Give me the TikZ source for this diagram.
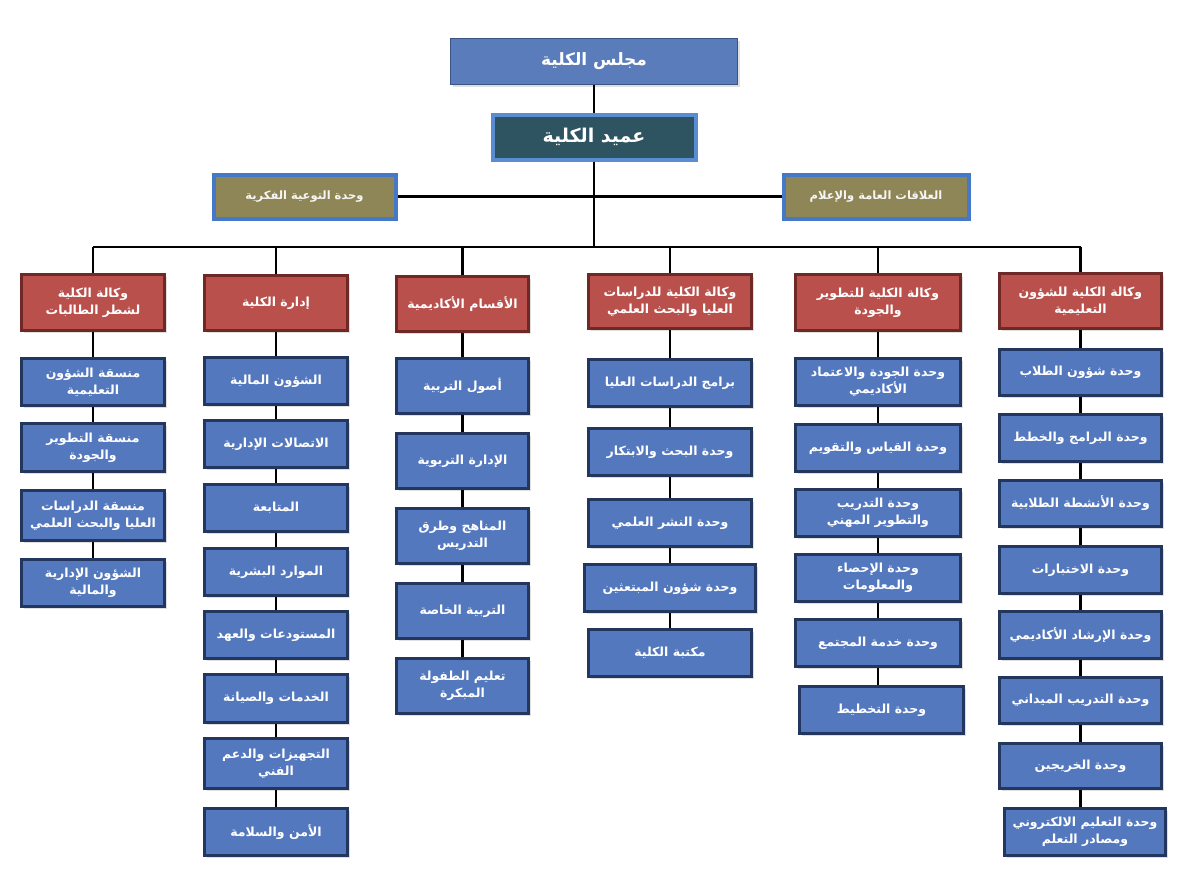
\documentclass[tikz,border=0pt]{standalone}
\usepackage{fontspec}
\newfontfamily\arabicfont[Script=Arabic]{DejaVu Sans}
\TeXXeTstate=1
\usetikzlibrary{shadows}
\definecolor{chfill}{HTML}{5478BE}
\definecolor{chdraw}{HTML}{23375E}
\definecolor{hdfill}{HTML}{B9504C}
\definecolor{hddraw}{HTML}{6E2826}
\definecolor{cofill}{HTML}{5A7CBA}
\definecolor{codraw}{HTML}{3A5583}
\definecolor{defill}{HTML}{2E5462}
\definecolor{dedraw}{HTML}{5A8CD2}
\definecolor{olfill}{HTML}{8F8658}
\definecolor{oldraw}{HTML}{4678C8}
\newcommand\ar[1]{\beginR #1\endR}
\newcommand\bx[7]{\node[#1, minimum width={(#4-#2-3)*1pt}, minimum height={(#5-#3-3)*1pt}] (#6) at ({(#2+#4)/2},{(#3+#5)/2}) {#7};}
\tikzset{
  base/.style={rectangle, align=center, inner sep=1pt, text=white, font=\arabicfont\bfseries\fontsize{12.5}{17}\selectfont,
    drop shadow={opacity=0.25, shadow xshift=2pt, shadow yshift=-2pt}},
  child/.style={base, fill=chfill, draw=chdraw, line width=3.5pt},
  head/.style={base, fill=hdfill, draw=hddraw, line width=3.5pt},
  council/.style={base, fill=cofill, draw=codraw, line width=1.5pt, font=\arabicfont\bfseries\fontsize{17}{20}\selectfont},
  dean/.style={base, fill=defill, draw=dedraw, line width=4pt, font=\arabicfont\bfseries\fontsize{19}{22}\selectfont},
  olive/.style={base, fill=olfill, draw=oldraw, line width=4pt, text=white!92!olfill, font=\arabicfont\bfseries\fontsize{11.5}{14}\selectfont},
  link/.style={draw=black, line width=2.5pt}
}
\begin{document}
\begin{tikzpicture}[x=1pt,y=-1pt]
\useasboundingbox (0,0) rectangle (1185,881);
% top
\bx{council}{449}{37}{739}{86}{council}{\ar{مجلس الكلية}}
\bx{dean}{491}{113}{697}{161}{dean}{\ar{عميد الكلية}}
\bx{olive}{212}{173}{397}{220}{olL}{\ar{وحدة التوعية الفكرية}}
\bx{olive}{782}{173}{970}{220}{olR}{\ar{العلاقات العامة والإعلام}}
% heads
\bx{head}{20}{273}{166}{332}{h1}{\ar{وكالة الكلية}\\\ar{لشطر الطالبات}}
\bx{head}{203}{274}{349}{332}{h2}{\ar{إدارة الكلية}}
\bx{head}{395}{275}{530}{333}{h3}{\ar{الأقسام الأكاديمية}}
\bx{head}{587}{273}{753}{330}{h4}{\ar{وكالة الكلية للدراسات}\\\ar{العليا والبحث العلمي}}
\bx{head}{794}{273}{962}{332}{h5}{\ar{وكالة الكلية للتطوير}\\\ar{والجودة}}
\bx{head}{998}{272}{1163}{330}{h6}{\ar{وكالة الكلية للشؤون}\\\ar{التعليمية}}
% column 1
\bx{child}{20}{357}{166}{407}{a1}{\ar{منسقة الشؤون}\\\ar{التعليمية}}
\bx{child}{20}{422}{166}{473}{a2}{\ar{منسقة التطوير}\\\ar{والجودة}}
\bx{child}{20}{489}{166}{542}{a3}{\ar{منسقة الدراسات}\\\ar{العليا والبحث العلمي}}
\bx{child}{20}{558}{166}{608}{a4}{\ar{الشؤون الإدارية}\\\ar{والمالية}}
% column 2
\bx{child}{203}{356}{349}{406}{b1}{\ar{الشؤون المالية}}
\bx{child}{203}{419}{349}{469}{b2}{\ar{الاتصالات الإدارية}}
\bx{child}{203}{483}{349}{533}{b3}{\ar{المتابعة}}
\bx{child}{203}{547}{349}{597}{b4}{\ar{الموارد البشرية}}
\bx{child}{203}{610}{349}{660}{b5}{\ar{المستودعات والعهد}}
\bx{child}{203}{673}{349}{724}{b6}{\ar{الخدمات والصيانة}}
\bx{child}{203}{737}{349}{790}{b7}{\ar{التجهيزات والدعم}\\\ar{الفني}}
\bx{child}{203}{807}{349}{857}{b8}{\ar{الأمن والسلامة}}
% column 3
\bx{child}{395}{357}{530}{415}{c1}{\ar{أصول التربية}}
\bx{child}{395}{432}{530}{490}{c2}{\ar{الإدارة التربوية}}
\bx{child}{395}{507}{530}{565}{c3}{\ar{المناهج وطرق}\\\ar{التدريس}}
\bx{child}{395}{582}{530}{640}{c4}{\ar{التربية الخاصة}}
\bx{child}{395}{657}{530}{715}{c5}{\ar{تعليم الطفولة}\\\ar{المبكرة}}
% column 4
\bx{child}{587}{358}{753}{408}{d1}{\ar{برامج الدراسات العليا}}
\bx{child}{587}{427}{753}{477}{d2}{\ar{وحدة البحث والابتكار}}
\bx{child}{587}{498}{753}{548}{d3}{\ar{وحدة النشر العلمي}}
\bx{child}{583}{563}{757}{613}{d4}{\ar{وحدة شؤون المبتعثين}}
\bx{child}{587}{628}{753}{678}{d5}{\ar{مكتبة الكلية}}
% column 5
\bx{child}{794}{357}{962}{407}{e1}{\ar{وحدة الجودة والاعتماد}\\\ar{الأكاديمي}}
\bx{child}{794}{423}{962}{473}{e2}{\ar{وحدة القياس والتقويم}}
\bx{child}{794}{488}{962}{538}{e3}{\ar{وحدة التدريب}\\\ar{والتطوير المهني}}
\bx{child}{794}{553}{962}{603}{e4}{\ar{وحدة الإحصاء}\\\ar{والمعلومات}}
\bx{child}{794}{618}{962}{668}{e5}{\ar{وحدة خدمة المجتمع}}
\bx{child}{798}{685}{965}{735}{e6}{\ar{وحدة التخطيط}}
% column 6
\bx{child}{998}{348}{1163}{397}{f1}{\ar{وحدة شؤون الطلاب}}
\bx{child}{998}{413}{1163}{463}{f2}{\ar{وحدة البرامج والخطط}}
\bx{child}{998}{479}{1163}{528}{f3}{\ar{وحدة الأنشطة الطلابية}}
\bx{child}{998}{545}{1163}{595}{f4}{\ar{وحدة الاختبارات}}
\bx{child}{998}{610}{1163}{660}{f5}{\ar{وحدة الإرشاد الأكاديمي}}
\bx{child}{998}{676}{1163}{725}{f6}{\ar{وحدة التدريب الميداني}}
\bx{child}{998}{742}{1163}{790}{f7}{\ar{وحدة الخريجين}}
\bx{child}{1003}{807}{1167}{857}{f8}{\ar{وحدة التعليم الالكتروني}\\\ar{ومصادر التعلم}}
% connectors
\coordinate (bus) at (0,247);
\path[link] (council.south) -- (dean.north);
\path[link] (dean.south) -- (dean.south |- bus);
\path[link] (olL.east) -- (olR.west);
\path[link] (h1.north |- bus) -- (h6.north |- bus);
\foreach \h in {h1,h2,h3,h4,h5,h6}{\path[link] (\h.north |- bus) -- (\h.north);}
\foreach \p/\q in {h1/a1,a1/a2,a2/a3,a3/a4,
  h2/b1,b1/b2,b2/b3,b3/b4,b4/b5,b5/b6,b6/b7,b7/b8,
  h3/c1,c1/c2,c2/c3,c3/c4,c4/c5,
  h4/d1,d1/d2,d2/d3,d3/d4,d4/d5,
  h5/e1,e1/e2,e2/e3,e3/e4,e4/e5,e5/e6,
  h6/f1,f1/f2,f2/f3,f3/f4,f4/f5,f5/f6,f6/f7,f7/f8}
  {\path[link] (\p.south) -- (\p.south |- \q.north);}
\end{tikzpicture}
\end{document}
